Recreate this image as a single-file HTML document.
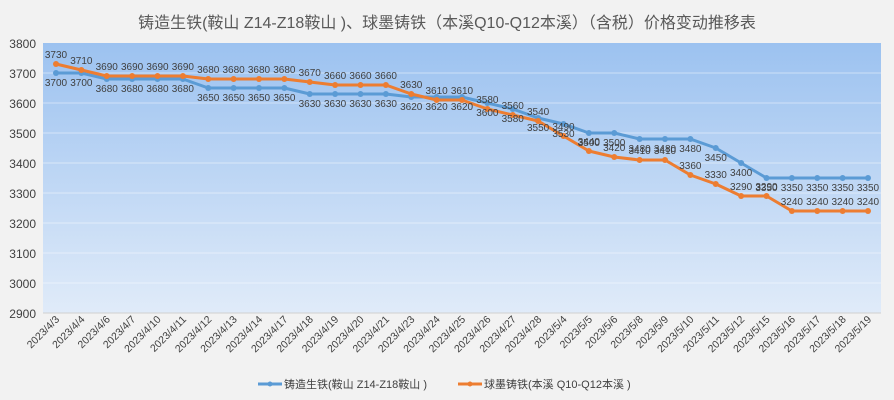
<!DOCTYPE html>
<html><head><meta charset="utf-8"><style>
html,body{margin:0;padding:0;background:#f2f2f2;}
svg{display:block;font-family:"Liberation Sans","Noto Sans CJK SC",sans-serif;}
</style></head><body>
<svg id="c" width="894" height="400" viewBox="0 0 894 400" xmlns="http://www.w3.org/2000/svg">
<defs><linearGradient id="g" x1="0" y1="0" x2="0" y2="1"><stop offset="0" stop-color="#9cc2f0"/><stop offset="1" stop-color="#e0ebf9"/></linearGradient></defs>
<rect width="894" height="400" fill="#f2f2f2"/>
<text x="447" y="28" text-anchor="middle" font-size="16" fill="#595959">铸造生铁(鞍山 Z14-Z18鞍山 )、球墨铸铁（本溪Q10-Q12本溪）（含税）价格变动推移表</text>
<rect x="43" y="43" width="838" height="270" fill="url(#g)"/>
<g id="grid"></g>
<g id="lines"></g>
<g id="labels" font-size="10" fill="#404040"></g>
<g id="xl" font-size="10.5" fill="#404040"></g>
<g font-size="11" fill="#404040">
<line x1="258" y1="384" x2="282" y2="384" stroke="#5b9bd5" stroke-width="3"/><circle cx="270" cy="384" r="2.5" fill="#5b9bd5"/>
<text x="284" y="388">铸造生铁(鞍山 Z14-Z18鞍山 )</text>
<line x1="458" y1="384" x2="482" y2="384" stroke="#ed7d31" stroke-width="3"/><circle cx="470" cy="384" r="2.5" fill="#ed7d31"/>
<text x="484" y="388">球墨铸铁(本溪 Q10-Q12本溪 )</text>
</g>
</svg>
<script>
const dates=["4/3","4/4","4/6","4/7","4/10","4/11","4/12","4/13","4/14","4/17","4/18","4/19","4/20","4/21","4/23","4/24","4/25","4/26","4/27","4/28","5/4","5/5","5/6","5/8","5/9","5/10","5/11","5/12","5/15","5/16","5/17","5/18","5/19"];
const b=[3700,3700,3680,3680,3680,3680,3650,3650,3650,3650,3630,3630,3630,3630,3620,3620,3620,3600,3580,3550,3530,3500,3500,3480,3480,3480,3450,3400,3350,3350,3350,3350,3350];
const o=[3730,3710,3690,3690,3690,3690,3680,3680,3680,3680,3670,3660,3660,3660,3630,3610,3610,3580,3560,3540,3490,3440,3420,3410,3410,3360,3330,3290,3290,3240,3240,3240,3240];
const NS="http://www.w3.org/2000/svg";
function el(p,t,a,txt){const e=document.createElementNS(NS,t);for(const k in a)e.setAttribute(k,a[k]);if(txt!==undefined)e.textContent=txt;document.getElementById(p).appendChild(e);return e;}
const X=i=>56+i*25.375, Y=v=>43+(3800-v)*0.3;
for(let v=2900;v<=3800;v+=100){const y=Y(v);
 if(v>2900&&v<3800) el("grid","line",{x1:43,x2:881,y1:y,y2:y,stroke:"#ffffff","stroke-opacity":"0.45","stroke-width":1});
 el("grid","text",{x:36,y:y+5,"text-anchor":"end","font-size":"12",fill:"#404040"},v);}
el("grid","line",{x1:43,x2:881,y1:313,y2:313,stroke:"#d0d0d0"});
[[b,"#5b9bd5",13],[o,"#ed7d31",-6]].forEach(([d,c,dy])=>{
 el("lines","polyline",{points:d.map((v,i)=>X(i)+","+Y(v)).join(" "),fill:"none",stroke:c,"stroke-width":3,"stroke-linejoin":"round"});
 d.forEach((v,i)=>{el("lines","circle",{cx:X(i),cy:Y(v),r:3,fill:c});
  el("labels","text",{x:X(i),y:Y(v)+dy,"text-anchor":"middle"},v);});
});
dates.forEach((d,i)=>{const x=X(i)+4,y=320;el("xl","text",{x:x,y:y,"text-anchor":"end",transform:`rotate(-45 ${x} ${y})`},"2023/"+d);});
</script>
</body></html>
